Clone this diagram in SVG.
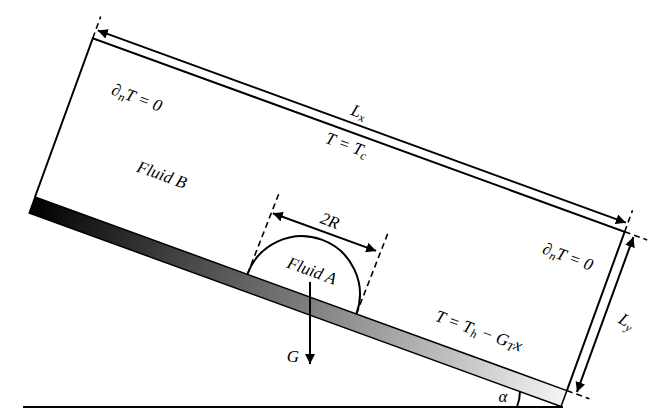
<svg xmlns="http://www.w3.org/2000/svg" width="659" height="420" viewBox="0 0 659 420">
<style>
.ln{stroke:#000;stroke-width:2;fill:none}
.ds{stroke:#000;stroke-width:1.6;fill:none;stroke-dasharray:6,4}
.t{font-family:"Liberation Serif",serif;font-style:italic;font-size:17px;fill:#000}
</style>
<defs>
<linearGradient id="g" x1="0" x2="1" y1="0" y2="0">
<stop offset="0" stop-color="#000"/><stop offset="1" stop-color="#f4f4f4"/>
</linearGradient>
<marker id="a" viewBox="0 0 10 10" refX="10" refY="5" markerWidth="5" markerHeight="5" orient="auto-start-reverse"><path d="M0,0L10,5L0,10z" fill="#000"/></marker>
</defs>
<rect width="659" height="420" fill="#fff"/>
<line id="ground" x1="23" y1="407" x2="563" y2="407" class="ln"/>
<path id="angle" d="M517,407 A45,45 0 0 0 520,391" class="ln" stroke-width="1.5"/>
<g transform="translate(35,197) rotate(20)">
<g id="wall">
<rect x="0" y="0" width="566" height="17" fill="url(#g)" stroke="#000" stroke-width="1.5"/>
</g>
<g id="domain">
<path d="M0,0 V-169 H566 V0" class="ln"/>
</g>
<g id="dropA">
<path d="M226,0 A58,58 0 0 1 342,0" class="ln"/>
</g>
<g id="connectors">
<line x1="0" y1="-169" x2="0" y2="-192" class="ds"/>
<line x1="566" y1="-169" x2="566" y2="-192" class="ds"/>
<line x1="2" y1="-178" x2="564" y2="-178" class="ln" marker-start="url(#a)" marker-end="url(#a)"/>
<line x1="566" y1="-169" x2="590" y2="-169" class="ds"/>
<line x1="566" y1="0" x2="590" y2="0" class="ds"/>
<line x1="576" y1="-167" x2="576" y2="-2" class="ln" marker-start="url(#a)" marker-end="url(#a)"/>
<line x1="226" y1="0" x2="228" y2="-86" class="ds"/>
<line x1="342" y1="0" x2="344" y2="-86" class="ds"/>
<line x1="229" y1="-66" x2="339" y2="-66" class="ln" marker-start="url(#a)" marker-end="url(#a)"/>
</g>
</g>
<line x1="310" y1="282" x2="310" y2="364" class="ln" stroke-width="1.8" marker-end="url(#a)"/>
<g class="t" text-anchor="middle">
<g transform="translate(135,103) rotate(20)"><text>∂<tspan font-size="12" dy="3">n</tspan><tspan dy="-3">T = 0</tspan></text></g>
<g transform="translate(160,180) rotate(20)"><text>Fluid B</text></g>
<g transform="translate(357,117) rotate(20)"><text>L<tspan font-size="12" dy="3">x</tspan></text></g>
<g transform="translate(345,150) rotate(20)"><text>T = T<tspan font-size="12" dy="3">c</tspan></text></g>
<g transform="translate(328,226) rotate(20)"><text>2R</text></g>
<g transform="translate(310,276) rotate(20)"><text>Fluid A</text></g>
<g transform="translate(566,262) rotate(20)"><text>∂<tspan font-size="12" dy="3">n</tspan><tspan dy="-3">T = 0</tspan></text></g>
<g transform="translate(624,326) rotate(30)"><text>L<tspan font-size="12" dy="3">y</tspan></text></g>
<g transform="translate(477,336) rotate(20)"><text>T = T<tspan font-size="12" dy="3">h</tspan><tspan dy="-3"> − G</tspan><tspan font-size="12" dy="3">T</tspan><tspan dy="-3">x</tspan></text></g>
<text x="293" y="362">G</text>
<text x="503" y="402">α</text>
</g>
</svg>
